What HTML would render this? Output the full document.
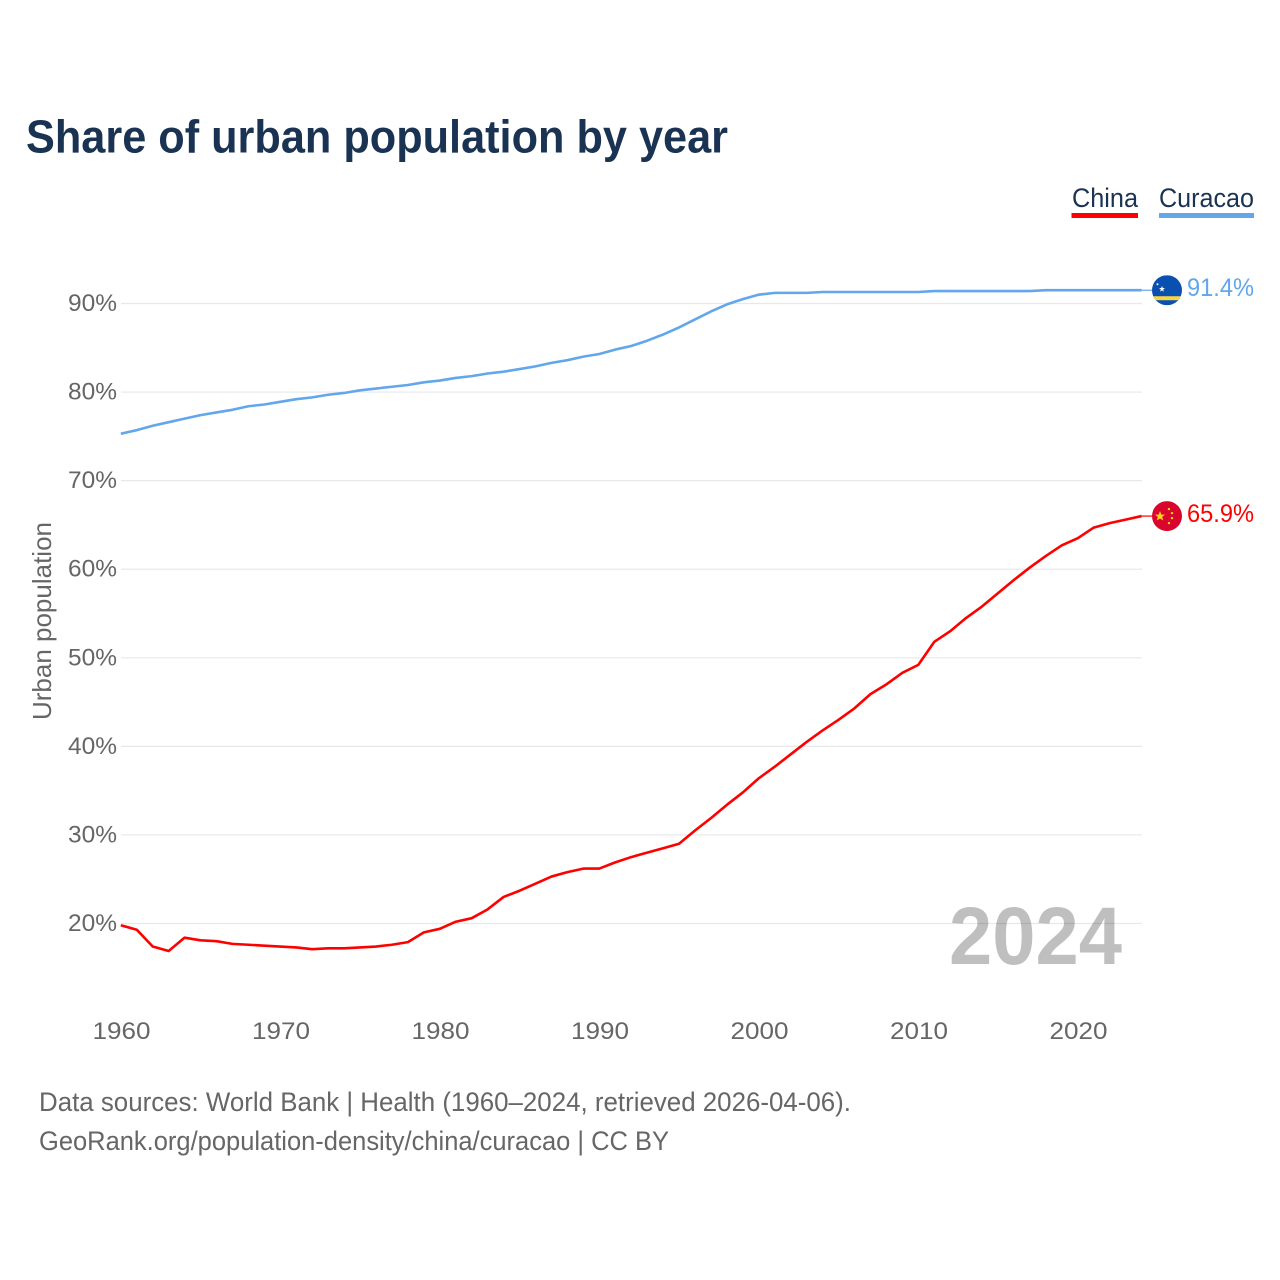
<!DOCTYPE html>
<html lang="en">
<head>
<meta charset="utf-8">
<title>Share of urban population by year</title>
<style>
html,body{margin:0;padding:0;background:#fff;width:1280px;height:1280px;overflow:hidden}
svg{display:block}
text{font-family:"Liberation Sans",Arial,sans-serif}
</style>
</head>
<body>
<svg id="chart" xmlns="http://www.w3.org/2000/svg" width="1280" height="1280" viewBox="0 0 1280 1280">
  <rect width="1280" height="1280" fill="#fff"/>
  <text x="26" y="152.5" font-size="46" font-weight="700" fill="#1a3353" textLength="702" lengthAdjust="spacingAndGlyphs">Share of urban population by year</text>

  <g>
    <g>
      <text x="1072" y="207" font-size="27" fill="#1a3353" textLength="66" lengthAdjust="spacingAndGlyphs">China</text>
      <rect x="1071.5" y="213" width="66.5" height="5" fill="#ff0000"/>
    </g>
    <g>
      <text x="1159" y="207" font-size="27" fill="#1a3353" textLength="95" lengthAdjust="spacingAndGlyphs">Curacao</text>
      <rect x="1159" y="213" width="95" height="5" fill="#62a6ec"/>
    </g>
  </g>

  <text transform="translate(51,621) rotate(-90)" text-anchor="middle" font-size="26" fill="#666" textLength="198" lengthAdjust="spacingAndGlyphs">Urban population</text>

  <g id="grid"></g>
  <g id="yticks"></g>
  <g id="xticks"></g>

  <text x="949" y="964" font-size="82" font-weight="700" fill="#000" fill-opacity="0.25" textLength="173" lengthAdjust="spacingAndGlyphs">2024</text>

  <g id="series"></g>

  <g id="flag-curacao">
    <defs>
      <clipPath id="clip-cw"><circle cx="0" cy="0" r="15"/></clipPath>
      <clipPath id="clip-cn"><circle cx="0" cy="0" r="15"/></clipPath>
    </defs>
    <g clip-path="url(#clip-cw)">
      <rect x="-15" y="-15" width="30" height="30" fill="#0a50b0"/>
      <rect x="-15" y="6" width="30" height="4" fill="#f9d342"/>
      <polygon points="-5,-4.3 -4.2,-2.2 -2,-2.2 -3.8,-0.8 -3.1,1.4 -5,0.1 -6.9,1.4 -6.2,-0.8 -8,-2.2 -5.8,-2.2" fill="#fff"/>
      <circle cx="-9.5" cy="-6" r="1" fill="#fff"/>
    </g>
  </g>
  <g id="flag-china">
    <g clip-path="url(#clip-cn)">
      <rect x="-15" y="-15" width="30" height="30" fill="#d8062c"/>
      <polygon points="-7,-5 -5.6,-1.5 -1.9,-1.5 -4.8,0.8 -3.8,4.4 -7,2.4 -10.2,4.4 -9.2,0.8 -12.1,-1.5 -8.4,-1.5" fill="#fcd116"/>
      <circle cx="2" cy="-7" r="1.2" fill="#fcd116"/>
      <circle cx="5" cy="-3" r="1.2" fill="#fcd116"/>
      <circle cx="5" cy="2" r="1.2" fill="#fcd116"/>
      <circle cx="2" cy="7" r="1.2" fill="#fcd116"/>
    </g>
  </g>

  <g id="end-labels"></g>

  <g>
    <text x="39" y="1111" font-size="27" fill="#666" textLength="812" lengthAdjust="spacingAndGlyphs">Data sources: World Bank | Health (1960–2024, retrieved 2026-04-06).</text>
    <text x="39" y="1150" font-size="27" fill="#666" textLength="630" lengthAdjust="spacingAndGlyphs">GeoRank.org/population-density/china/curacao | CC BY</text>
  </g>
</svg>
<script>
const startYear = 1960;
const yTickValues = [20, 30, 40, 50, 60, 70, 80, 90];
const xTickValues = [1960, 1970, 1980, 1990, 2000, 2010, 2020];
const chinaValues = [19.8,19.3,17.4,16.9,18.4,18.1,18.0,17.7,17.6,17.5,17.4,17.3,17.1,17.2,17.2,17.3,17.4,17.6,17.9,19.0,19.4,20.2,20.6,21.6,23.0,23.7,24.5,25.3,25.8,26.2,26.2,26.9,27.5,28.0,28.5,29.0,30.5,31.9,33.4,34.8,36.4,37.7,39.1,40.5,41.8,43.0,44.3,45.9,47.0,48.3,49.2,51.8,53.0,54.5,55.8,57.3,58.8,60.2,61.5,62.7,63.5,64.7,65.2,65.6,66.0];
const curacaoValues = [75.3,75.7,76.2,76.6,77.0,77.4,77.7,78.0,78.4,78.6,78.9,79.2,79.4,79.7,79.9,80.2,80.4,80.6,80.8,81.1,81.3,81.6,81.8,82.1,82.3,82.6,82.9,83.3,83.6,84.0,84.3,84.8,85.2,85.8,86.5,87.3,88.2,89.1,89.9,90.5,91.0,91.2,91.2,91.2,91.3,91.3,91.3,91.3,91.3,91.3,91.3,91.4,91.4,91.4,91.4,91.4,91.4,91.4,91.5,91.5,91.5,91.5,91.5,91.5,91.5];
const chinaLabel = "65.9%";
const curacaoLabel = "91.4%";

const NS = "http://www.w3.org/2000/svg";
function xScale(year) { return 120.8 + (year - startYear) * 15.95; }
function yScale(v) { return 923.5 - (v - 20) * 8.857; }
function make(tag, parent) {
  const el = document.createElementNS(NS, tag);
  parent.appendChild(el);
  return el;
}

const gridG = document.getElementById("grid");
const yG = document.getElementById("yticks");
const xG = document.getElementById("xticks");
const seriesG = document.getElementById("series");
const labelsG = document.getElementById("end-labels");

yTickValues.forEach(function (v) {
  const line = make("line", gridG);
  
  
  line.setAttribute("x1", 121);
  line.setAttribute("x2", 1142);
  line.setAttribute("y1", yScale(v));
  line.setAttribute("y2", yScale(v));
  line.setAttribute("stroke", "#e8e8e8");
  line.setAttribute("stroke-width", "1.2");
  const t = make("text", yG);
  
  
  t.setAttribute("x", 117);
  t.setAttribute("y", yScale(v) + 7.5);
  t.setAttribute("text-anchor", "end");
  t.setAttribute("font-size", "24.5");
  t.setAttribute("fill", "#666");
  t.setAttribute("textLength", "49");
  t.setAttribute("lengthAdjust", "spacingAndGlyphs");
  t.textContent = v + "%";
});

xTickValues.forEach(function (y) {
  const t = make("text", xG);
  
  
  t.setAttribute("x", xScale(y) + 0.7);
  t.setAttribute("y", 1039);
  t.setAttribute("text-anchor", "middle");
  t.setAttribute("font-size", "24.5");
  t.setAttribute("fill", "#666");
  t.setAttribute("textLength", "58");
  t.setAttribute("lengthAdjust", "spacingAndGlyphs");
  t.textContent = y;
});

function drawSeries(values, color, name) {
  const p = make("polyline", seriesG);
  
  
  p.setAttribute("fill", "none");
  p.setAttribute("stroke", color);
  p.setAttribute("stroke-width", "2.6");
  p.setAttribute("stroke-linejoin", "round");
  p.setAttribute("points", values.map(function (v, i) {
    return xScale(startYear + i).toFixed(2) + "," + yScale(v).toFixed(2);
  }).join(" "));
}
drawSeries(curacaoValues, "#62a6ec", "line-curacao");
drawSeries(chinaValues, "#ff0000", "line-china");

function placeEnd(values, color, flagId, labelText, name) {
  const last = values[values.length - 1];
  const yy = yScale(last);
  const lastX = xScale(startYear + values.length - 1);
  const conn = make("line", seriesG);
  
  
  conn.setAttribute("x1", lastX);
  conn.setAttribute("x2", 1152);
  conn.setAttribute("y1", yy);
  conn.setAttribute("y2", yy);
  conn.setAttribute("stroke", color);
  conn.setAttribute("stroke-width", "1.2");
  document.getElementById(flagId).setAttribute("transform", "translate(1167," + yy + ")");
  const t = make("text", labelsG);
  
  
  t.setAttribute("x", 1187);
  t.setAttribute("y", yy + 5.7);
  t.setAttribute("font-size", "25");
  t.setAttribute("fill", color);
  t.setAttribute("textLength", "67");
  t.setAttribute("lengthAdjust", "spacingAndGlyphs");
  t.textContent = labelText;
}
placeEnd(curacaoValues, "#62a6ec", "flag-curacao", curacaoLabel, "curacao");
placeEnd(chinaValues, "#ff0000", "flag-china", chinaLabel, "china");
</script>
</body>
</html>
